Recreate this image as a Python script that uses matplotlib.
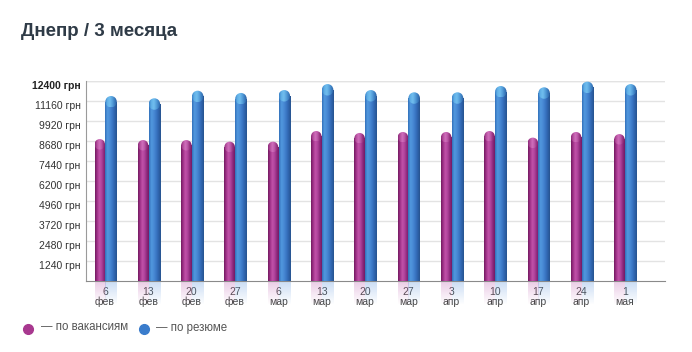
import numpy as np
import matplotlib
matplotlib.use("Agg")
import matplotlib.pyplot as plt
from matplotlib.patches import Ellipse
from matplotlib.colors import LinearSegmentedColormap, to_rgb
from matplotlib.transforms import ScaledTranslation
from matplotlib.lines import Line2D

plt.rcParams['font.family'] = ['Liberation Sans', 'DejaVu Sans']

title = "Днепр / 3 месяца"
days = ["6", "13", "20", "27", "6", "13", "20", "27", "3", "10", "17", "24", "1"]
months = ["фев", "фев", "фев", "фев", "мар", "мар", "мар", "мар", "апр", "апр", "апр", "апр", "мая"]
vacancies = [8800, 8740, 8740, 8640, 8640, 9300, 9180, 9240, 9240, 9300, 8890, 9240, 9110]
resumes = [11470, 11330, 11800, 11660, 11840, 12210, 11840, 11700, 11700, 12090, 12010, 12360, 12210]
yticks = [1240, 2480, 3720, 4960, 6200, 7440, 8680, 9920, 11160, 12400]
series_names = ["— по вакансиям", "— по резюме"]

W, H = 692, 352
fig = plt.figure(figsize=(W / 100, H / 100), dpi=100)
ax_l, ax_r, ax_t, ax_b = 86, 665, 81, 281
ax = fig.add_axes([ax_l / W, 1 - ax_b / H, (ax_r - ax_l) / W, (ax_b - ax_t) / H])

x = np.arange(len(days))
xmin, xmax = -0.44, 12.93
ymin, ymax = 0, 12400
px_x = (xmax - xmin) / (ax_r - ax_l)   # data units per pixel (x)
px_y = (ymax - ymin) / (ax_b - ax_t)   # data units per pixel (y)

w_p = 10.5 * px_x
w_b = 11.5 * px_x
off_p = -5.3 * px_x
off_b = 6.0 * px_x

pink_cols = ["#72195f", "#a1338a", "#c152a9", "#b0449c", "#8f2a7e", "#731c66"]
blue_cols = ["#3270ba", "#5198de", "#4a8bd6", "#3b78c6", "#2f64ae", "#27548f"]
pink_cap = ["#8a2878", "#b8509f", "#d06fbc", "#bc58a8", "#96317f", "#7a2269"]
blue_cap = ["#3c82c8", "#62b2e8", "#70bdee", "#58a2dc", "#3d7fc2", "#2d5f9e"]


def grad(cols):
    return LinearSegmentedColormap.from_list("g", cols)


grad_img = np.linspace(0, 1, 64).reshape(1, -1)


def draw_bars(offset, width, values, cols, capcols, refl_col):
    ry = width / px_x / 2 * px_y
    bars = ax.bar(x + offset, [v - ry for v in values], width=width,
                  color="none", edgecolor="none", zorder=3)
    for rect, v in zip(bars, values):
        x0 = rect.get_x()
        h = rect.get_height()
        im = ax.imshow(grad_img, cmap=grad(cols), aspect="auto",
                       extent=[x0, x0 + width, 0, h], zorder=3,
                       interpolation="bilinear")
        im.set_clip_path(rect)
        cap = Ellipse((x0 + width / 2, h), width, 2 * ry, facecolor="none",
                      edgecolor="none", zorder=4)
        ax.add_patch(cap)
        im2 = ax.imshow(grad_img, cmap=grad(capcols), aspect="auto",
                        extent=[x0, x0 + width, h - ry, h + ry], zorder=4,
                        interpolation="bilinear")
        im2.set_clip_path(cap)
        # reflection below axis
        refl = np.zeros((32, 2, 4))
        refl[:, :, :3] = np.array(to_rgb(refl_col))
        refl[:, :, 3] = np.linspace(0.35, 0.0, 32)[:, None]
        im3 = ax.imshow(refl, aspect="auto",
                        extent=[x0, x0 + width, -24 * px_y, 0], zorder=1,
                        interpolation="bilinear")
        im3.set_clip_on(False)


draw_bars(off_p, w_p, vacancies, pink_cols, pink_cap, "#c670b8")
draw_bars(off_b, w_b, resumes, blue_cols, blue_cap, "#6a9ee0")

ax.set_xlim(xmin, xmax)
ax.set_ylim(ymin, ymax)

ax.set_yticks(yticks)
ax.set_yticklabels([f"{v} грн" for v in yticks])
ax.tick_params(axis="y", length=0, pad=4, labelsize=7.5, labelcolor="#333333")
for lbl in ax.get_yticklabels():
    lbl.set_transform(lbl.get_transform() + ScaledTranslation(0, -4 / 100, fig.dpi_scale_trans))
ax.get_yticklabels()[-1].set_fontweight("bold")
ax.get_yticklabels()[-1].set_color("#222222")

ax.set_xticks(x)
ax.set_xticklabels([f"{d}\n{m}" for d, m in zip(days, months)], linespacing=0.95)
ax.tick_params(axis="x", length=0, pad=4.5, labelsize=7.5, labelcolor="#444444")

ax.yaxis.grid(True, color="#e3e3e3", lw=1)
ax.set_axisbelow(True)
for s in ["top", "right"]:
    ax.spines[s].set_visible(False)
ax.spines["left"].set_color("#9a9a9a")
ax.spines["bottom"].set_color("#8a8a8a")
ax.axhline(ymax, color="#e3e3e3", lw=1, zorder=0)

fig.text(21 / W, 1 - 32 / H, title, fontsize=13.5, fontweight="bold",
         color="#2f3b47", va="center", ha="left")

# legend
for cx, col, name, tx in [(28, "#a8388f", series_names[0], 41),
                          (144, "#3a7ccc", series_names[1], 156)]:
    fig.add_artist(Line2D([cx / W], [1 - 328.5 / H], marker="o", markersize=7,
                          color=col, markeredgecolor=col, linestyle="none",
                          transform=fig.transFigure))
    fig.text(tx / W, 1 - 327.5 / H, name, fontsize=8.3, color="#555555",
             va="center", ha="left")

fig.savefig("out.png", dpi=100)
